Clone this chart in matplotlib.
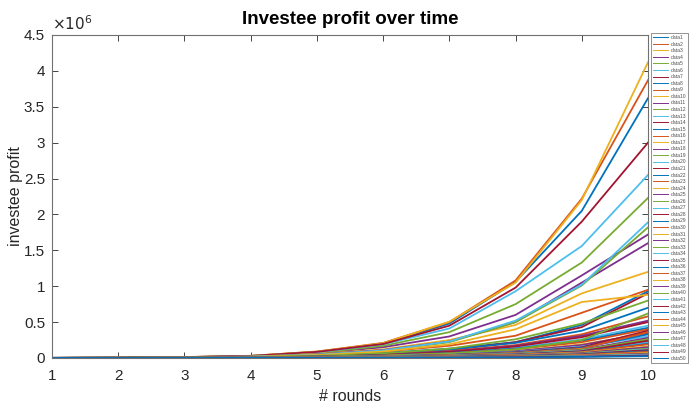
import numpy as np
import matplotlib.pyplot as plt
from matplotlib.ticker import FuncFormatter, MultipleLocator

plt.rcParams['font.family'] = ['Liberation Sans', 'DejaVu Sans']

# rounds on the x axis
rounds = np.arange(1, 11)

# profit per investee, in thousands, rounds 1..10
profit_k = [
    [2, 5, 12, 28, 85, 200, 480, 1060, 2050, 3620],
    [2, 5, 13, 30, 90, 210, 500, 1080, 2220, 3870],
    [2, 5, 13, 30, 88, 205, 505, 1050, 2200, 4120],
    [1, 4, 10, 24, 65, 150, 300, 600, 1150, 1720],
    [1, 4, 10, 25, 70, 170, 360, 750, 1330, 2230],
    [2, 4, 11, 27, 80, 190, 410, 930, 1560, 2550],
    [2, 5, 12, 28, 85, 195, 450, 980, 1900, 3000],
    [1, 2, 5, 12, 30, 70, 130, 220, 460, 930],
    [1, 3, 6, 14, 38, 90, 170, 310, 630, 950],
    [1, 3, 8, 20, 55, 120, 250, 460, 900, 1200],
    [1, 3, 8, 20, 50, 110, 230, 500, 1050, 1600],
    [1, 3, 7, 18, 45, 100, 220, 500, 1010, 1820],
    [1, 3, 7, 18, 45, 105, 230, 520, 1020, 1890],
    [1, 2, 4, 10, 26, 55, 110, 220, 430, 900],
    [1, 2, 5, 11, 28, 60, 115, 210, 380, 700],
    [1, 2, 4, 9, 22, 48, 95, 180, 330, 580],
    [1, 3, 7, 16, 40, 90, 190, 400, 780, 880],
    [1, 2, 4, 9, 21, 45, 90, 170, 310, 520],
    [1, 2, 5, 12, 30, 65, 130, 260, 480, 800],
    [0, 1, 3, 7, 18, 38, 75, 140, 260, 450],
    [1, 2, 4, 8, 20, 42, 85, 160, 290, 500],
    [0, 1, 3, 7, 17, 36, 70, 130, 240, 420],
    [0, 1, 3, 6, 15, 33, 65, 120, 220, 400],
    [0, 1, 2, 5, 13, 28, 55, 100, 190, 340],
    [0, 1, 2, 5, 12, 26, 50, 95, 180, 350],
    [0, 1, 3, 6, 15, 32, 62, 120, 250, 620],
    [0, 1, 2, 5, 11, 24, 46, 85, 160, 300],
    [0, 1, 2, 4, 10, 22, 43, 80, 150, 380],
    [0, 1, 2, 4, 10, 21, 40, 75, 140, 330],
    [0, 1, 2, 4, 9, 20, 38, 70, 130, 360],
    [0, 1, 2, 4, 8, 18, 35, 65, 120, 250],
    [0, 1, 2, 3, 8, 17, 33, 62, 115, 280],
    [0, 1, 2, 3, 8, 16, 31, 58, 110, 260],
    [0, 1, 1, 3, 7, 15, 29, 54, 100, 220],
    [0, 1, 1, 3, 7, 14, 27, 50, 95, 240],
    [0, 0, 1, 3, 6, 13, 25, 46, 85, 200],
    [0, 0, 1, 3, 6, 12, 23, 43, 80, 190],
    [0, 0, 1, 2, 5, 11, 21, 40, 75, 160],
    [0, 0, 1, 2, 5, 10, 19, 36, 68, 150],
    [0, 0, 1, 2, 4, 9, 17, 32, 60, 130],
    [0, 0, 1, 2, 4, 8, 16, 30, 55, 120],
    [0, 0, 1, 2, 4, 8, 15, 28, 52, 110],
    [0, 0, 1, 2, 3, 7, 13, 25, 46, 95],
    [0, 0, 1, 1, 3, 6, 12, 22, 42, 85],
    [0, 0, 0, 1, 3, 5, 10, 19, 36, 70],
    [0, 0, 0, 1, 2, 5, 9, 17, 32, 60],
    [0, 0, 0, 1, 2, 4, 8, 15, 28, 50],
    [0, 0, 0, 1, 2, 4, 7, 13, 25, 45],
    [0, 0, 0, 1, 2, 3, 6, 11, 20, 35],
    [0, 0, 0, 1, 1, 2, 4, 8, 15, 25],
]
labels = ['data%d' % (i + 1) for i in range(len(profit_k))]

# MATLAB default line colour order
colors = ['#0072BD', '#D95319', '#EDB120', '#7E2F8E',
          '#77AC30', '#4DBEEE', '#A2142F']
axis_col = '#262626'

fig = plt.figure(figsize=(6.89, 4.04), dpi=100)
ax = fig.add_axes([0.0755, 0.1139, 0.865, 0.7995])

for i, (vals, lab) in enumerate(zip(profit_k, labels)):
    ax.plot(rounds, np.array(vals) * 1000.0, color=colors[i % 7],
            lw=1.3, label=lab)

ax.set_xlim(1, 10)
ax.set_ylim(0, 4.5e6)
ax.xaxis.set_major_locator(MultipleLocator(1))
ax.yaxis.set_major_locator(MultipleLocator(0.5e6))
ax.yaxis.set_major_formatter(FuncFormatter(lambda v, p: '%g' % (v / 1e6)))
ax.tick_params(direction='in', length=4, width=0.6, colors=axis_col,
               labelsize=11, top=True, right=True)
ax.tick_params(axis='x', pad=8)
ax.tick_params(axis='y', pad=5)
for s in ax.spines.values():
    s.set_color('#707070')
    s.set_linewidth(0.8)

ax.text(0.0, 1.005, r'$\times10^6$', transform=ax.transAxes,
        fontsize=11, color=axis_col, ha='left', va='bottom')
ax.set_title('Investee profit over time', fontsize=13.5, fontweight='bold',
             color='black', pad=8)
ax.set_xlabel('# rounds', fontsize=11.5, color=axis_col, labelpad=4)
ax.set_ylabel('investee profit', fontsize=11.5, color=axis_col, labelpad=1)

leg = ax.legend(loc='upper left', bbox_to_anchor=(651 / 689, 1 - 33 / 404),
                bbox_transform=fig.transFigure, fontsize=3.6,
                handlelength=3.0, handletextpad=0.5, labelspacing=0.31,
                borderpad=0.4, borderaxespad=0, fancybox=False,
                framealpha=1, edgecolor='#808080')
leg.get_frame().set_linewidth(0.6)
for t in leg.get_texts():
    t.set_color('#505050')
for ln in leg.get_lines():
    ln.set_linewidth(0.7)

fig.savefig('out.png', dpi=100)
